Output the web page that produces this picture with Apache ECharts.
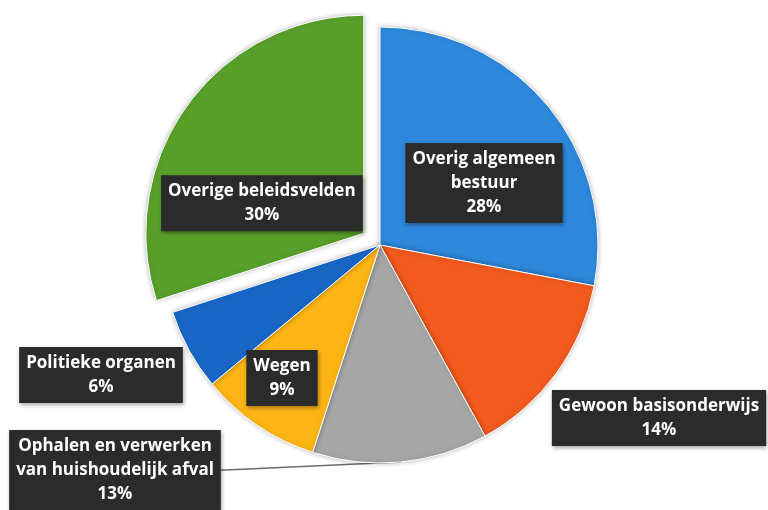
<!DOCTYPE html>
<html>
<head>
<meta charset="utf-8">
<script src="https://cdn.jsdelivr.net/npm/echarts@6/dist/echarts.min.js"></script>
<style>
html,body{margin:0;padding:0;background:#fff;}
#c{width:768px;height:510px;}
</style>
</head>
<body>
<div id="c"></div>
<script>
// Data
const categories = ['Overig algemeen bestuur', 'Gewoon basisonderwijs', 'Ophalen en verwerken\nvan huishoudelijk afval', 'Wegen', 'Politieke organen', 'Overige beleidsvelden'];
const values = [28, 14, 13, 9, 6, 30];
const labelNames = ['Overig algemeen\nbestuur', 'Gewoon basisonderwijs', 'Ophalen en verwerken\nvan huishoudelijk afval', 'Wegen', 'Politieke organen', 'Overige beleidsvelden'];

// Styling
const colors = ['#2E88DC', '#F25A1E', '#A6A6A6', '#FDB515', '#1866C6', '#58A02A'];
const labelCenters = [[484, 183], [659, 418], [115, 470], [282, 378], [101, 375], [278, 215]];

const chart = echarts.init(document.getElementById('c'), null, {renderer: 'canvas'});
const data = categories.map((c, i) => ({
  name: c,
  value: values[i],
  selected: i === 5,
  itemStyle: {color: colors[i]},
  labelLine: {show: i === 2, lineStyle: {color: '#6b6b6b', width: 1.5}}
}));

chart.setOption({
  backgroundColor: '#ffffff',
  animation: false,
  series: [{
    type: 'pie',
    center: [380, 245],
    radius: [0, 218],
    startAngle: 90,
    clockwise: true,
    selectedMode: 'single',
    selectedOffset: 20,
    avoidLabelOverlap: false,
    data: data,
    itemStyle: {borderColor: '#ffffff', borderWidth: 1, shadowColor: 'rgba(0,0,0,0.25)', shadowBlur: 5},
    emphasis: {disabled: true},
    select: {itemStyle: {borderColor: '#ffffff', borderWidth: 1}},
    label: {
      show: true,
      position: 'outside',
      formatter: p => labelNames[p.dataIndex] + '\n' + p.value + '%',
      color: '#ffffff',
      fontFamily: 'Open Sans',
      fontWeight: 'bold',
      fontSize: 17,
      lineHeight: 24,
      align: 'center',
      backgroundColor: '#2B2B2B',
      padding: [4, 7, 4, 7],
      shadowColor: 'rgba(0,0,0,0.35)',
      shadowBlur: 4,
      shadowOffsetX: 1,
      shadowOffsetY: 2
    },
    labelLine: {length: 5, length2: 5},
    labelLayout: function (params) {
      const p = labelCenters[params.dataIndex];
      const r = params.labelRect;
      if (params.dataIndex === 5) {
        return {dx: p[0] - (r.x + r.width), dy: p[1] - (r.y + r.height / 2), align: 'center'};
      }
      return {x: p[0], y: p[1], align: 'center', verticalAlign: 'middle'};
    }
  }]
});
</script>
</body>
</html>
